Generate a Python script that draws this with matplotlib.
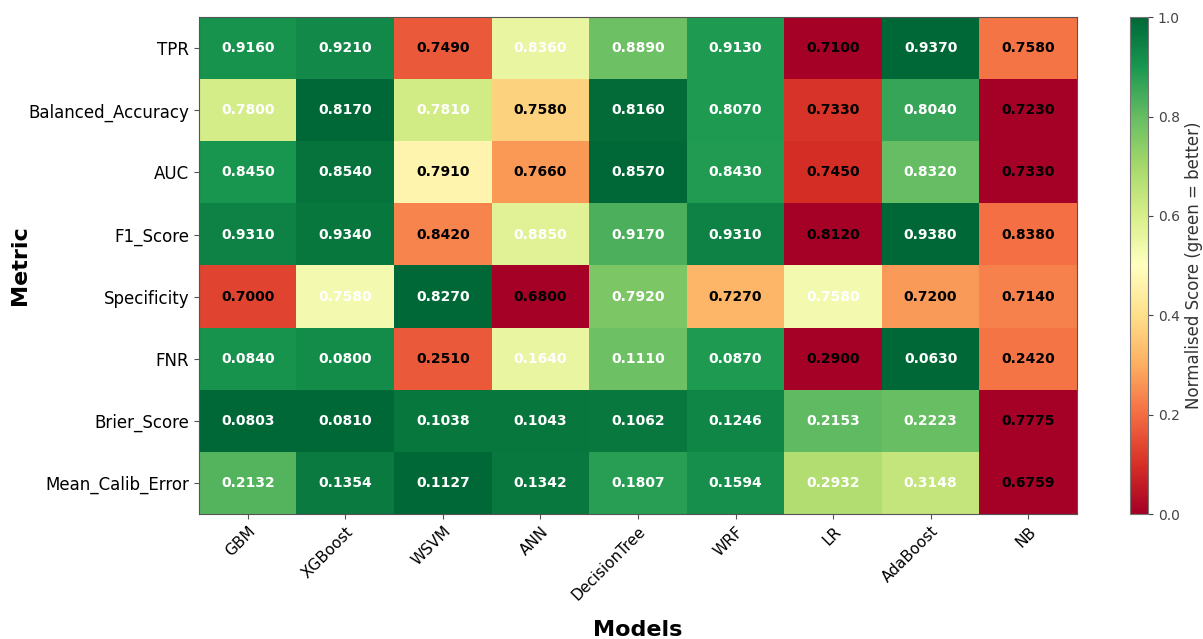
import numpy as np
import matplotlib.pyplot as plt

models = ['GBM', 'XGBoost', 'WSVM', 'ANN', 'DecisionTree', 'WRF', 'LR', 'AdaBoost', 'NB']
metrics = ['TPR', 'Balanced_Accuracy', 'AUC', 'F1_Score', 'Specificity', 'FNR',
           'Brier_Score', 'Mean_Calib_Error']

tpr = [0.9160, 0.9210, 0.7490, 0.8360, 0.8890, 0.9130, 0.7100, 0.9370, 0.7580]
bal_acc = [0.7800, 0.8170, 0.7810, 0.7580, 0.8160, 0.8070, 0.7330, 0.8040, 0.7230]
auc = [0.8450, 0.8540, 0.7910, 0.7660, 0.8570, 0.8430, 0.7450, 0.8320, 0.7330]
f1 = [0.9310, 0.9340, 0.8420, 0.8850, 0.9170, 0.9310, 0.8120, 0.9380, 0.8380]
specificity = [0.7000, 0.7580, 0.8270, 0.6800, 0.7920, 0.7270, 0.7580, 0.7200, 0.7140]
fnr = [0.0840, 0.0800, 0.2510, 0.1640, 0.1110, 0.0870, 0.2900, 0.0630, 0.2420]
brier = [0.0803, 0.0810, 0.1038, 0.1043, 0.1062, 0.1246, 0.2153, 0.2223, 0.7775]
calib = [0.2132, 0.1354, 0.1127, 0.1342, 0.1807, 0.1594, 0.2932, 0.3148, 0.6759]

# metrics where a lower value is better
lower_better = ['FNR', 'Brier_Score', 'Mean_Calib_Error']

raw = np.array([tpr, bal_acc, auc, f1, specificity, fnr, brier, calib])

#  per-row min-max normalisation, flipped for lower-is-better rows
norm = np.zeros_like(raw)
for i, name in enumerate(metrics):
    row = raw[i]
    n = (row - row.min()) / (row.max() - row.min())
    norm[i] = 1 - n if name in lower_better else n

fig = plt.figure(figsize=(12.03, 6.39), dpi=100)
ax = fig.add_axes([0.1654, 0.1956, 0.7298, 0.7774])
cax = fig.add_axes([0.9393, 0.1956, 0.0150, 0.7774])

im = ax.imshow(norm, cmap='RdYlGn', vmin=0, vmax=1, aspect='auto')

for i in range(raw.shape[0]):
    for j in range(raw.shape[1]):
        color = 'white' if norm[i, j] > 0.5 else 'black'
        ax.text(j, i, f'{raw[i, j]:.4f}', ha='center', va='center',
                fontsize=10, fontweight='bold', color=color)

ax.set_xticks(range(len(models)))
ax.set_xticklabels(models, rotation=45, ha='right', rotation_mode='anchor', fontsize=11)
ax.set_yticks(range(len(metrics)))
ax.set_yticklabels(metrics, fontsize=12)
ax.set_xlabel('Models', fontsize=16, fontweight='bold', labelpad=12)
# y label placed by hand so it stays inside the figure
fig.text(0.017, 0.585, 'Metric', rotation=90, ha='center', va='center',
         fontsize=16, fontweight='bold')
for s in ax.spines.values():
    s.set_color('#555555')
ax.tick_params(colors='#555555', labelcolor='black')

cb = fig.colorbar(im, cax=cax)
cb.set_label('Normalised Score (green = better)', fontsize=12, color='#333333')
cb.outline.set_edgecolor('#777777')
cax.tick_params(labelsize=10, colors='#444444')

plt.savefig('out.png', dpi=100)
